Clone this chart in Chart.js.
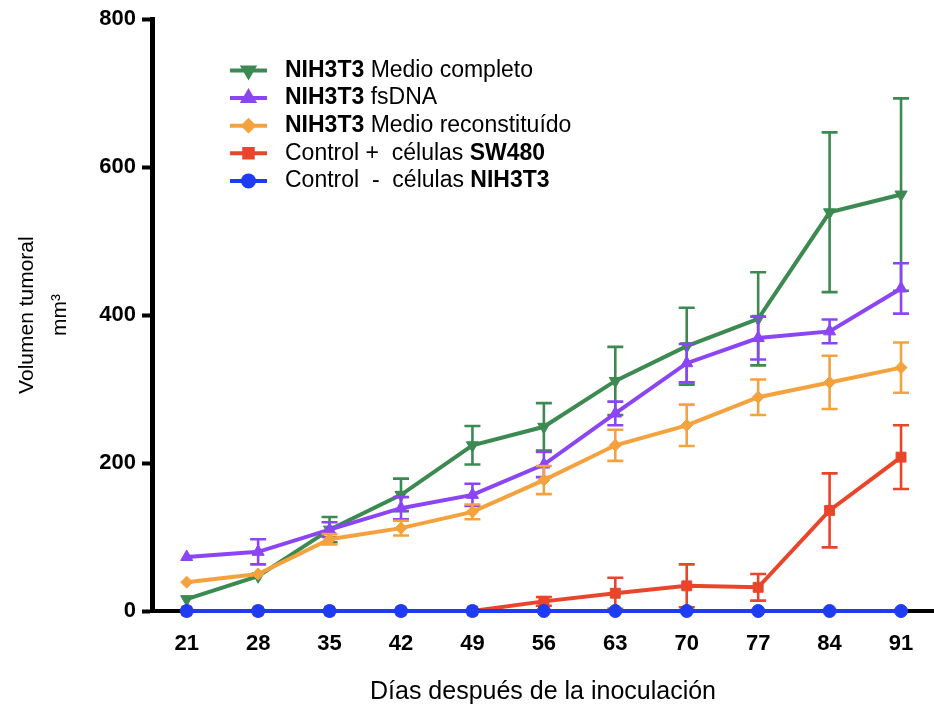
<!DOCTYPE html>
<html><head><meta charset="utf-8">
<script src="https://cdn.jsdelivr.net/npm/chart.js@4/dist/chart.umd.min.js"></script>
<style>html,body{margin:0;padding:0;background:#fff}#wrap{width:934px;height:709px;position:relative}</style>
</head><body><div id="wrap"><canvas id="c"></canvas></div>
<script>
// ---- data ----
const days = [21, 28, 35, 42, 49, 56, 63, 70, 77, 84, 91];
const yTickValues = [0, 200, 400, 600, 800];

const completo    = [16, 47, 110, 157, 224, 249, 311, 358, 395, 539, 563];
const completoErr = [0, 0, 17, 22, 26, 32, 46, 52, 63, 108, 130];

const fsDNA    = [73, 80, 110, 139, 157, 198, 267, 335, 369, 378, 436];
const fsDNAErr = [0, 17, 10, 15, 15, 17, 16, 26, 29, 16, 34];

const reconst    = [39, 50, 97, 112, 134, 177, 224, 251, 289, 309, 329];
const reconstErr = [0, 0, 7, 10, 10, 19, 21, 28, 24, 36, 34];

const sw480    = [0, 0, 0, 0, 0, 13, 24, 34, 32, 136, 208];
const sw480Err = [0, 0, 0, 0, 0, 6, 21, 29, 18, 50, 43];

const negativo    = [0, 0, 0, 0, 0, 0, 0, 0, 0, 0, 0];
const negativoErr = [0, 0, 0, 0, 0, 0, 0, 0, 0, 0, 0];

const legendLabels = [
  [["NIH3T3", true], [" Medio completo", false]],
  [["NIH3T3", true], [" fsDNA", false]],
  [["NIH3T3", true], [" Medio reconstituído", false]],
  [["Control +  células ", false], ["SW480", true]],
  [["Control  -  células ", false], ["NIH3T3", true]]
];
const xTitle = "Días después de la inoculación";
const yTitle = ["Volumen tumoral", "mm³"];

// ---- styles ----
const FONT = "'Liberation Sans', Arial, Helvetica, sans-serif";
const colors = ["#3c8a52", "#8b45f5", "#f4a23e", "#e9452b", "#1e3cf2"];
const styles = [
  {pointStyle: 'triangle', rotation: 180, radius: 7},
  {pointStyle: 'triangle', rotation: 0, radius: 7},
  {pointStyle: 'rectRot', rotation: 0, radius: 6},
  {pointStyle: 'rect', rotation: 0, radius: 7},
  {pointStyle: 'circle', rotation: 0, radius: 6.5}
];
const seriesVals = [completo, fsDNA, reconst, sw480, negativo];
const seriesErrs = [completoErr, fsDNAErr, reconstErr, sw480Err, negativoErr];
const orders = [4, 3, 2, 1, 0];

const datasets = seriesVals.map((vals, k) => ({
  label: legendLabels[k].map(s => s[0]).join(''),
  data: days.map((d, i) => ({x: d, y: vals[i]})),
  errors: seriesErrs[k],
  borderColor: colors[k],
  backgroundColor: colors[k],
  pointBackgroundColor: colors[k],
  pointBorderColor: colors[k],
  pointStyle: styles[k].pointStyle,
  pointRotation: styles[k].rotation,
  pointRadius: styles[k].radius,
  pointBorderWidth: 1,
  borderWidth: 4,
  tension: 0,
  clip: false,
  order: orders[k]
}));

const errorBars = {
  id: 'errorBars',
  beforeDatasetDraw(chart, args) {
    const ds = chart.data.datasets[args.index];
    const meta = args.meta;
    const ys = chart.scales.y;
    const ctx = chart.ctx;
    ctx.save();
    ctx.strokeStyle = ds.borderColor;
    ctx.lineWidth = 2.6;
    meta.data.forEach((pt, i) => {
      const e = ds.errors[i];
      if (!e) return;
      const v = ds.data[i].y;
      const top = ys.getPixelForValue(v + e);
      const bot = ys.getPixelForValue(v - e);
      const x = pt.x, w = 8;
      ctx.beginPath();
      ctx.moveTo(x, top); ctx.lineTo(x, bot);
      ctx.moveTo(x - w, top); ctx.lineTo(x + w, top);
      ctx.moveTo(x - w, bot); ctx.lineTo(x + w, bot);
      ctx.stroke();
    });
    ctx.restore();
  }
};

const customLegend = {
  id: 'customLegend',
  afterDraw(chart) {
    const ctx = chart.ctx;
    ctx.save();
    const x0 = 230, x1 = 267, tx = 285, y0 = 70.5, dy = 27.6;
    legendLabels.forEach((segs, k) => {
      const y = y0 + k * dy;
      ctx.strokeStyle = colors[k];
      ctx.lineWidth = 4;
      ctx.beginPath(); ctx.moveTo(x0, y); ctx.lineTo(x1, y); ctx.stroke();
      ctx.fillStyle = colors[k];
      Chart.helpers.drawPoint(ctx, {
        pointStyle: styles[k].pointStyle, rotation: styles[k].rotation,
        radius: styles[k].radius - 1, borderWidth: 1
      }, (x0 + x1) / 2, y);
      let x = tx;
      ctx.fillStyle = '#000';
      ctx.textBaseline = 'middle';
      ctx.textAlign = 'left';
      segs.forEach(([t, bold]) => {
        ctx.font = (bold ? 'bold ' : '') + '23px ' + FONT;
        ctx.fillText(t, x, y);
        x += ctx.measureText(t).width;
      });
    });
    ctx.restore();
  }
};

new Chart(document.getElementById('c'), {
  type: 'line',
  data: {datasets},
  plugins: [errorBars, customLegend],
  options: {
    responsive: true,
    maintainAspectRatio: false,
    animation: false,
    layout: {autoPadding: false, padding: {top: 19, left: 0, right: 0, bottom: 1}},
    plugins: {legend: {display: false}, tooltip: {enabled: false}},
    scales: {
      x: {
        type: 'linear',
        min: 17.6, max: 94.23,
        afterBuildTicks: s => { s.ticks = days.map(v => ({value: v})); },
        afterFit: s => { s.height = 97; s.paddingLeft = 0; s.paddingRight = 0; },
        ticks: {
          autoSkip: false, maxRotation: 0, padding: 14,
          color: '#000',
          font: {family: FONT, size: 22, weight: 'bold'},
          callback: v => String(v)
        },
        grid: {drawOnChartArea: false, drawTicks: true, tickLength: 6, tickWidth: 2, tickColor: '#000'},
        border: {display: true, color: '#000', width: 4},
        title: {display: true, text: xTitle, color: '#000', font: {family: FONT, size: 25}, padding: {top: 0, bottom: 1}}
      },
      y: {
        type: 'linear',
        min: 0, max: 800,
        afterBuildTicks: s => { s.ticks = yTickValues.map(v => ({value: v})); },
        afterFit: s => { s.width = 152; },
        ticks: {
          padding: 6, color: '#000',
          font: {family: FONT, size: 22, weight: 'bold'},
          callback: v => String(v)
        },
        grid: {drawOnChartArea: false, drawTicks: true, tickLength: 10, tickWidth: 4, tickColor: '#000'},
        border: {display: true, color: '#000', width: 5},
        title: {display: true, text: yTitle, color: '#000', font: {family: FONT, size: 21, lineHeight: 1.6}, padding: {top: 10, bottom: 0}}
      }
    }
  }
});
</script>
</body></html>
